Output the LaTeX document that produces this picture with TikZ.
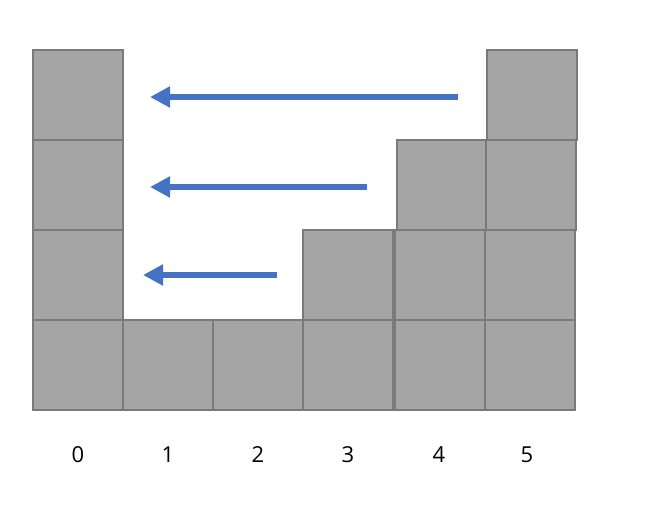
\documentclass[tikz,border=0pt]{standalone}
\usepackage{fontspec}
\setmainfont{Open Sans}
\usetikzlibrary{arrows.meta}
\definecolor{cellfill}{HTML}{A5A5A5}
\definecolor{celledge}{HTML}{7A7A7A}
\definecolor{flowblue}{HTML}{4472C4}
\tikzset{
  cell/.style={rectangle, draw=celledge, fill=cellfill, line width=2pt, minimum size=90pt, inner sep=0pt},
  flow/.style={-{Triangle[length=20pt,width=20pt]}, draw=flowblue, line width=6.5pt},
  idx/.style={font=\fontsize{22}{26}\selectfont, text=black, inner sep=0pt},
}

\begin{document}
\begin{tikzpicture}[x=1pt,y=-1pt]
  \useasboundingbox (0,0) rectangle (648,506);
  % column 0
  \node[cell] (c0r0) at (78,365) {};
  \node[cell] (c0r1) at (78,275) {};
  \node[cell] (c0r2) at (78,185) {};
  \node[cell] (c0r3) at (78,95) {};
  % columns 1 and 2
  \node[cell] (c1r0) at (168,365) {};
  \node[cell] (c2r0) at (258,365) {};
  % column 3
  \node[cell] (c3r0) at (348,365) {};
  \node[cell] (c3r1) at (348,275) {};
  % column 4
  \node[cell] (c4r0) at (440,365) {};
  \node[cell] (c4r1) at (440,275) {};
  \node[cell] (c4r2) at (442,185) {};
  % column 5
  \node[cell] (c5r0) at (530,365) {};
  \node[cell] (c5r1) at (530,275) {};
  \node[cell] (c5r2) at (531,185) {};
  \node[cell] (c5r3) at (532,95) {};
  % water arrows
  \coordinate (w3s) at (458,97);
  \coordinate (w3e) at (150,97);
  \coordinate (w2s) at (367,187);
  \coordinate (w2e) at (150,187);
  \coordinate (w1s) at (277,275);
  \coordinate (w1e) at (143,275);
  \draw[flow] (w3s) -- (w3e);
  \draw[flow] (w2s) -- (w2e);
  \draw[flow] (w1s) -- (w1e);
  % indices
  \node[idx] (i0) at (78,455) {0};
  \node[idx] (i1) at (168,455) {1};
  \node[idx] (i2) at (258,455) {2};
  \node[idx] (i3) at (348,455) {3};
  \node[idx] (i4) at (439,455) {4};
  \node[idx] (i5) at (527,455) {5};
\end{tikzpicture}
\end{document}
